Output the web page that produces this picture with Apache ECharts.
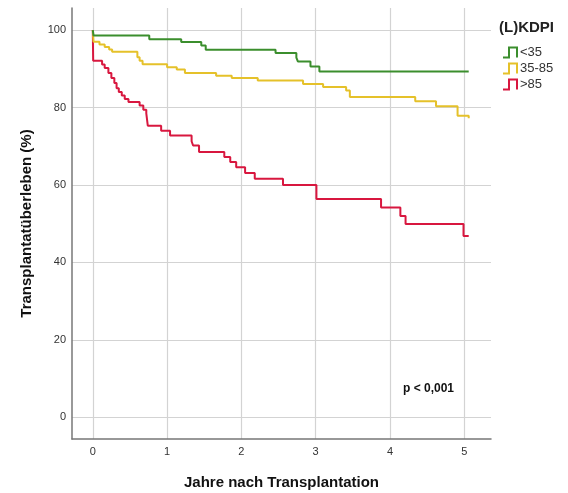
<!DOCTYPE html>
<html>
<head>
<meta charset="utf-8">
<script src="https://cdn.jsdelivr.net/npm/echarts@6/dist/echarts.min.js"></script>
<style>
html,body{margin:0;padding:0;background:#fff;}
#chart{width:568px;height:493px;}
</style>
</head>
<body>
<div id="chart"></div>
<script>
// Kaplan-Meier style steps: [years, survival %]
const seriesNames = ['<35', '35-85', '>85'];
const green = [[0,100],[0.01,98.6],[0.76,97.6],[1.19,96.9],[1.46,96.0],[1.52,94.9],[2.46,94.1],[2.74,92.9],[2.76,91.9],[2.93,90.6],[3.05,89.3],[5.06,89.3]];
const yellow = [[0,100],[0.01,97.0],[0.09,96.3],[0.16,95.6],[0.22,95.0],[0.26,94.4],[0.60,93.0],[0.63,92.1],[0.67,91.2],[1.00,90.4],[1.13,89.8],[1.24,88.9],[1.66,88.2],[1.87,87.6],[2.22,87.0],[2.83,86.1],[3.10,85.3],[3.41,84.4],[3.46,82.7],[4.34,81.6],[4.62,80.3],[4.91,77.9],[5.06,77.2]];
const red = [[0,100],[0.005,92.1],[0.125,91.1],[0.16,90.2],[0.21,88.9],[0.25,87.6],[0.29,86.3],[0.32,85.0],[0.35,84.0],[0.39,83.1],[0.43,82.2],[0.48,81.4],[0.63,80.5],[0.68,79.4],[0.72,78.5],[0.74,75.3],[0.92,74.0],[1.04,72.8],[1.33,71.3],[1.35,70.2],[1.43,68.5],[1.77,67.2],[1.85,65.9],[1.93,64.6],[2.05,63.1],[2.18,61.6],[2.56,60.0],[3.01,56.4],[3.88,54.2],[4.14,52.0],[4.21,49.9],[4.99,46.8],[5.06,46.8]];
const xTicks = [0,1,2,3,4,5];
const yTicks = [0,20,40,60,80,100];
const colors = ['#3b8e2d', '#e5c12a', '#d8173f'];
const legendTitle = '(L)KDPI';
const pText = 'p < 0,001';
const xName = 'Jahre nach Transplantation';
const yName = 'Transplantatüberleben (%)';

const chart = echarts.init(document.getElementById('chart'), null, {renderer:'canvas'});
const font = 'Liberation Sans';
const stepIcon = 'path://M0,10 L6,10 L6,0 L14,0 L14,10';
const allData = [green, yellow, red];
chart.setOption({
  animation: false,
  textStyle: {fontFamily: font},
  title: [
    {text: legendTitle, left: 494, top: 15, textStyle: {fontFamily: font, fontSize: 15, fontWeight: 'bold', color: '#222'}},
    {text: pText, left: 398, top: 378, textStyle: {fontFamily: font, fontSize: 12, fontWeight: 'bold', color: '#111'}}
  ],
  legend: {
    orient: 'vertical', left: 497, top: 41, itemWidth: 14, itemHeight: 10, itemGap: 3,
    textStyle: {fontFamily: font, fontSize: 13, color: '#333', padding: [0,0,0,-2]},
    icon: stepIcon,
    data: seriesNames.map((n, i) => ({name: n, itemStyle: {color: 'transparent', borderColor: colors[i], borderWidth: 2}, lineStyle: {width: 0, opacity: 0}}))
  },
  grid: {left: 72, right: 77, top: 8, bottom: 54, containLabel: false, outerBoundsMode: 'none'},
  xAxis: {
    type: 'value', min: -0.28, max: 5.36,
    name: xName, nameLocation: 'middle', nameGap: 36,
    nameTextStyle: {fontFamily: font, fontSize: 15, fontWeight: 'bold', color: '#111'},
    axisLine: {onZero: false, lineStyle: {color: '#777', width: 1.5}},
    axisTick: {show: false, customValues: xTicks},
    axisLabel: {customValues: xTicks, margin: 7, fontSize: 11, color: '#333', fontFamily: font},
    splitLine: {show: true, lineStyle: {color: '#d3d3d3', width: 1.2}}
  },
  yAxis: {
    type: 'value', min: -5.6, max: 105.7,
    name: yName, nameLocation: 'middle', nameGap: 38,
    nameTextStyle: {fontFamily: font, fontSize: 15, fontWeight: 'bold', color: '#111'},
    axisLine: {show: true, onZero: false, lineStyle: {color: '#777', width: 1.5}},
    axisTick: {show: false, customValues: yTicks},
    axisLabel: {customValues: yTicks, margin: 6, fontSize: 11, color: '#333', fontFamily: font},
    splitLine: {show: true, lineStyle: {color: '#d3d3d3', width: 1.2}}
  },
  series: seriesNames.map((n, i) => ({
    name: n, type: 'line', step: 'end', data: allData[i], showSymbol: false, symbol: 'none',
    lineStyle: {color: colors[i], width: 2}, itemStyle: {color: colors[i]}, z: 3 + (2 - i)
  }))
});
</script>
</body>
</html>
